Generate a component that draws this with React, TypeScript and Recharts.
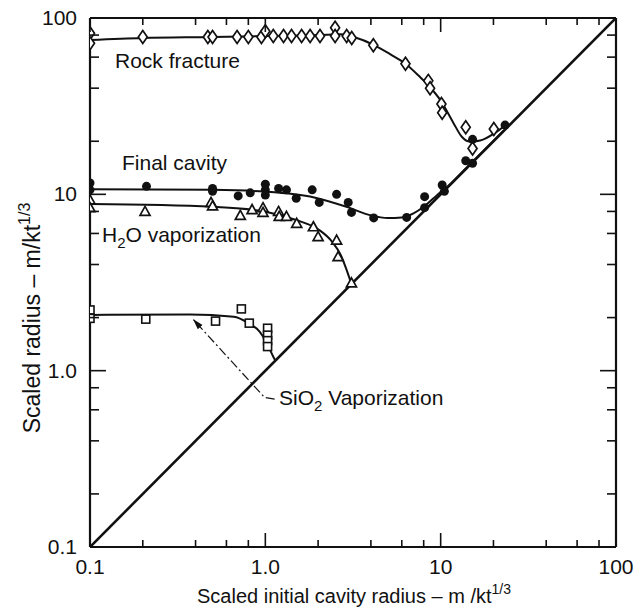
import { ComposedChart, Line, Scatter, XAxis, YAxis } from "recharts";

// log-log axes, one decade tick set shared by all four sides
const AXIS_TICKS = [0.1, 0.2, 0.4, 0.6, 0.8, 1, 2, 4, 6, 8, 10, 20, 40, 60, 80, 100];
const MAJOR_TICKS = [0.1, 1, 10, 100];
const TICK_LABELS: Record<string, string> = { "0.1": "0.1", "1": "1.0", "10": "10", "100": "100" };

// y = x reference line
const diagonal = [
  { x: 0.1, y: 0.1 },
  { x: 100, y: 100 },
];

// measured points
const rockFracturePts = [
  { x: 0.1, y: 82 }, { x: 0.1, y: 72 }, { x: 0.2, y: 78 }, { x: 0.47, y: 78 }, { x: 0.5, y: 78 },
  { x: 0.69, y: 78 }, { x: 0.8, y: 78 }, { x: 0.95, y: 78 }, { x: 1.0, y: 84 }, { x: 1.11, y: 79 },
  { x: 1.27, y: 79 }, { x: 1.41, y: 79 }, { x: 1.61, y: 79 }, { x: 1.8, y: 79 }, { x: 2.05, y: 79 },
  { x: 2.5, y: 88 }, { x: 2.5, y: 79 }, { x: 2.91, y: 79 }, { x: 3.11, y: 77 }, { x: 4.13, y: 70 },
  { x: 6.3, y: 55 }, { x: 8.5, y: 44 }, { x: 8.7, y: 40 }, { x: 10.1, y: 32.5 }, { x: 10.2, y: 29 },
  { x: 13.9, y: 24 }, { x: 15.2, y: 18.2 }, { x: 20.1, y: 23.5 },
];

const finalCavityPts = [
  { x: 0.1, y: 11.6 }, { x: 0.1, y: 10.6 }, { x: 0.21, y: 11.1 }, { x: 0.5, y: 10.8 }, { x: 0.5, y: 10.4 },
  { x: 0.7, y: 9.8 }, { x: 0.82, y: 10.2 }, { x: 1.0, y: 11.4 }, { x: 1.0, y: 10.6 }, { x: 1.0, y: 9.9 },
  { x: 1.19, y: 10.8 }, { x: 1.32, y: 10.6 }, { x: 1.5, y: 9.5 }, { x: 1.85, y: 10.6 }, { x: 2.03, y: 9.0 },
  { x: 2.55, y: 10.0 }, { x: 2.97, y: 9.0 }, { x: 3.1, y: 7.9 }, { x: 4.15, y: 7.35 }, { x: 6.4, y: 7.4 },
  { x: 8.1, y: 9.7 }, { x: 8.1, y: 8.4 }, { x: 10.2, y: 11.3 }, { x: 10.5, y: 10.4 }, { x: 13.9, y: 15.5 },
  { x: 15.2, y: 15.0 }, { x: 15.2, y: 20.5 }, { x: 23.3, y: 24.7 },
];

const h2oPts = [
  { x: 0.1, y: 9.3 }, { x: 0.1, y: 8.4 }, { x: 0.206, y: 8.0 }, { x: 0.49, y: 9.0 }, { x: 0.5, y: 8.6 },
  { x: 0.72, y: 7.6 }, { x: 0.84, y: 8.2 }, { x: 0.97, y: 8.4 }, { x: 0.97, y: 7.9 }, { x: 1.19, y: 8.0 },
  { x: 1.2, y: 7.5 }, { x: 1.32, y: 7.5 }, { x: 1.51, y: 6.85 }, { x: 1.88, y: 6.55 }, { x: 2.0, y: 5.75 },
  { x: 2.55, y: 5.5 }, { x: 2.6, y: 4.43 }, { x: 3.1, y: 3.15 },
];

const sio2Pts = [
  { x: 0.1, y: 2.21 }, { x: 0.1, y: 1.98 }, { x: 0.208, y: 1.96 }, { x: 0.52, y: 1.91 }, { x: 0.73, y: 2.24 },
  { x: 0.81, y: 1.86 }, { x: 1.03, y: 1.74 }, { x: 1.03, y: 1.59 }, { x: 1.03, y: 1.48 }, { x: 1.03, y: 1.37 },
];

// hand-fitted curves through each set
const rockFractureFit = [
  { x: 0.1, y: 75 }, { x: 0.2, y: 77 }, { x: 0.5, y: 78 }, { x: 1.0, y: 79 }, { x: 2.0, y: 80 },
  { x: 2.7, y: 81 }, { x: 3.2, y: 78 }, { x: 4.2, y: 70 }, { x: 5.2, y: 62 }, { x: 6.3, y: 55 },
  { x: 7.5, y: 47 }, { x: 8.6, y: 41 }, { x: 10, y: 34 }, { x: 11.8, y: 25.5 }, { x: 13.2, y: 21.2 },
  { x: 14.7, y: 19.9 }, { x: 16.8, y: 20.2 }, { x: 20.9, y: 22.7 }, { x: 23.8, y: 25 },
];

const finalCavityFit = [
  { x: 0.1, y: 10.7 }, { x: 0.5, y: 10.6 }, { x: 1.0, y: 10.35 }, { x: 1.9, y: 9.6 }, { x: 2.9, y: 8.5 },
  { x: 4, y: 7.6 }, { x: 5, y: 7.35 }, { x: 6, y: 7.4 }, { x: 7, y: 7.8 }, { x: 8, y: 8.5 },
  { x: 9, y: 9.4 }, { x: 10, y: 10.3 }, { x: 11, y: 11.1 }, { x: 13, y: 13.1 }, { x: 15, y: 15.1 },
  { x: 20, y: 20.1 }, { x: 23, y: 23.1 },
];

const h2oFit = [
  { x: 0.1, y: 8.8 }, { x: 0.5, y: 8.5 }, { x: 1.0, y: 7.97 }, { x: 1.5, y: 7.15 }, { x: 2.03, y: 6.28 },
  { x: 2.4, y: 5.4 }, { x: 2.7, y: 4.5 }, { x: 2.91, y: 3.72 }, { x: 3.1, y: 3.1 },
];

const sio2Fit = [
  { x: 0.1, y: 2.07 }, { x: 0.37, y: 2.08 }, { x: 0.66, y: 2.02 }, { x: 0.8, y: 1.86 }, { x: 0.93, y: 1.66 },
  { x: 1.01, y: 1.46 }, { x: 1.11, y: 1.2 }, { x: 1.14, y: 1.14 },
];

// leader from the SiO2 label up to its curve
const sio2Leader = [
  { x: 1.13, y: 0.69 },
  { x: 0.99, y: 0.705 },
  { x: 0.39, y: 1.94 },
];

const INK = "#111";
const FONT = "'Liberation Sans', Arial, sans-serif";

const tickLen = (v: number) => (MAJOR_TICKS.includes(v) ? 14 : 7);

const BottomTick = ({ x, y, payload }: any) => {
  const label = TICK_LABELS[String(payload.value)];
  return (
    <g>
      <line x1={x} x2={x} y1={y} y2={y - tickLen(payload.value)} stroke={INK} strokeWidth={1.6} />
      {label && (
        <text x={x} y={y + 27} textAnchor="middle" fontSize={21} fontFamily={FONT} fill={INK}>
          {label}
        </text>
      )}
    </g>
  );
};

const TopTick = ({ x, y, payload }: any) => (
  <line x1={x} x2={x} y1={y} y2={y + tickLen(payload.value)} stroke={INK} strokeWidth={1.6} />
);

const LeftTick = ({ x, y, payload }: any) => {
  const label = TICK_LABELS[String(payload.value)];
  return (
    <g>
      <line x1={x} x2={x + tickLen(payload.value) + 2} y1={y} y2={y} stroke={INK} strokeWidth={1.6} />
      {label && (
        <text x={x - 13} y={y + 7} textAnchor="end" fontSize={21} fontFamily={FONT} fill={INK}>
          {label}
        </text>
      )}
    </g>
  );
};

const RightTick = ({ x, y, payload }: any) => (
  <line x1={x} x2={x - tickLen(payload.value) - 2} y1={y} y2={y} stroke={INK} strokeWidth={1.6} />
);

const OpenDiamond = ({ cx, cy }: any) => (
  <polygon
    points={`${cx},${cy - 6.5} ${cx + 4.5},${cy} ${cx},${cy + 6.5} ${cx - 4.5},${cy}`}
    fill="#fff"
    stroke={INK}
    strokeWidth={1.7}
  />
);

const FilledDot = ({ cx, cy }: any) => <circle cx={cx} cy={cy} r={4.5} fill={INK} />;

const OpenTriangle = ({ cx, cy }: any) => (
  <polygon
    points={`${cx},${cy - 5} ${cx + 5},${cy + 4} ${cx - 5},${cy + 4}`}
    fill="#fff"
    stroke={INK}
    strokeWidth={1.7}
  />
);

const OpenSquare = ({ cx, cy }: any) => (
  <rect x={cx - 4} y={cy - 4} width={8} height={8} fill="#fff" stroke={INK} strokeWidth={1.6} />
);

const txt = { fontFamily: FONT, fill: INK } as const;

const App = () => (
  <div style={{ position: "absolute", left: 0, top: 0, width: 635, height: 616, background: "#fff" }}>
    <svg width={0} height={0} style={{ position: "absolute" }}>
      <defs>
        <marker id="leaderHead" viewBox="0 0 10 10" refX="9" refY="5" markerWidth="9" markerHeight="9" orient="auto">
          <path d="M0,2 L10,5 L0,8 z" fill={INK} />
        </marker>
      </defs>
    </svg>
    <ComposedChart width={635} height={616} margin={{ top: 0, right: 0, bottom: 0, left: 0 }}>
      <XAxis
        dataKey="x"
        type="number"
        scale="log"
        domain={[0.1, 100]}
        ticks={AXIS_TICKS}
        allowDataOverflow
        height={69}
        tickSize={0}
        tickMargin={0}
        tickLine={false}
        tick={<BottomTick />}
        interval={0}
        axisLine={{ stroke: INK, strokeWidth: 2.2 }}
      />
      <XAxis
        xAxisId="top"
        orientation="top"
        dataKey="x"
        type="number"
        scale="log"
        domain={[0.1, 100]}
        ticks={AXIS_TICKS}
        allowDataOverflow
        height={18}
        tickSize={0}
        tickMargin={0}
        tickLine={false}
        tick={<TopTick />}
        interval={0}
        axisLine={{ stroke: INK, strokeWidth: 2.2 }}
      />
      <YAxis
        dataKey="y"
        type="number"
        scale="log"
        domain={[0.1, 100]}
        ticks={AXIS_TICKS}
        allowDataOverflow
        width={90}
        tickSize={0}
        tickMargin={0}
        tickLine={false}
        tick={<LeftTick />}
        interval={0}
        axisLine={{ stroke: INK, strokeWidth: 2.2 }}
      />
      <YAxis
        yAxisId="right"
        orientation="right"
        dataKey="y"
        type="number"
        scale="log"
        domain={[0.1, 100]}
        ticks={AXIS_TICKS}
        allowDataOverflow
        width={19}
        tickSize={0}
        tickMargin={0}
        tickLine={false}
        tick={<RightTick />}
        interval={0}
        axisLine={{ stroke: INK, strokeWidth: 2.2 }}
      />

      <Line data={diagonal} dataKey="y" type="linear" stroke={INK} strokeWidth={2.6} dot={false} isAnimationActive={false} />
      <Line data={rockFractureFit} dataKey="y" type="monotone" stroke={INK} strokeWidth={2} dot={false} isAnimationActive={false} />
      <Line data={finalCavityFit} dataKey="y" type="monotone" stroke={INK} strokeWidth={2} dot={false} isAnimationActive={false} />
      <Line data={h2oFit} dataKey="y" type="monotone" stroke={INK} strokeWidth={2} dot={false} isAnimationActive={false} />
      <Line data={sio2Fit} dataKey="y" type="monotone" stroke={INK} strokeWidth={2} dot={false} isAnimationActive={false} />
      <Line
        data={sio2Leader}
        dataKey="y"
        type="linear"
        stroke={INK}
        strokeWidth={1.2}
        strokeDasharray="9 3 2 3"
        markerEnd="url(#leaderHead)"
        dot={false}
        isAnimationActive={false}
      />

      <Scatter data={rockFracturePts} shape={<OpenDiamond />} isAnimationActive={false} />
      <Scatter data={finalCavityPts} shape={<FilledDot />} isAnimationActive={false} />
      <Scatter data={h2oPts} shape={<OpenTriangle />} isAnimationActive={false} />
      <Scatter data={sio2Pts} shape={<OpenSquare />} isAnimationActive={false} />
    </ComposedChart>

    {/* curve labels and axis titles */}
    <svg width={635} height={616} style={{ position: "absolute", left: 0, top: 0, pointerEvents: "none" }}>
      <text x={115} y={68} fontSize={21} {...txt}>Rock fracture</text>
      <text x={122} y={170} fontSize={21} {...txt}>Final cavity</text>
      <text x={102} y={242} fontSize={21} {...txt}>
        H<tspan fontSize={15} dy={6}>2</tspan>
        <tspan dy={-6}>O vaporization</tspan>
      </text>
      <text x={279} y={405} fontSize={21} {...txt}>
        SiO<tspan fontSize={15} dy={6}>2</tspan>
        <tspan dy={-6}> Vaporization</tspan>
      </text>
      <text x={354} y={603} fontSize={20} textAnchor="middle" {...txt}>
        Scaled initial cavity radius – m /kt<tspan fontSize={14} dy={-9}>1/3</tspan>
      </text>
      <text x={40} y={318} fontSize={23} textAnchor="middle" transform="rotate(-90 40 318)" {...txt}>
        Scaled radius – m/kt<tspan fontSize={16} dy={-10}>1/3</tspan>
      </text>
    </svg>
  </div>
);

export default App;
